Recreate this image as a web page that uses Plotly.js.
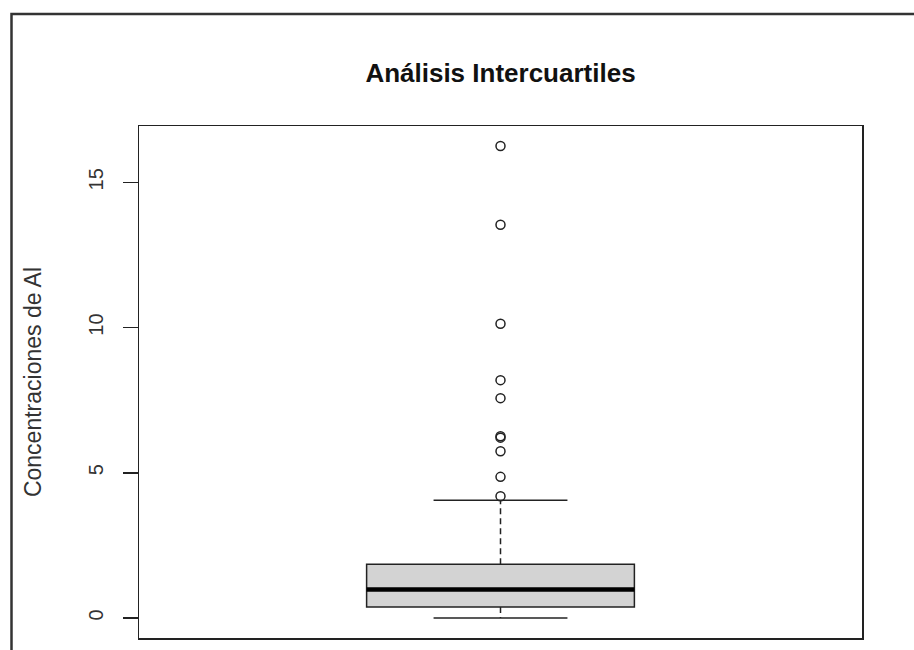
<!DOCTYPE html>
<html>
<head>
<meta charset="utf-8">
<script src="https://cdn.plot.ly/plotly-3.0.1.min.js"></script>
<style>
  html, body { margin: 0; padding: 0; background: #ffffff; }
  #chart { width: 914px; height: 650px; }
</style>
</head>
<body>
<div id="chart"></div>
<script>
// ---- data (Concentraciones de Al) ----
const boxPosition = [1];
const q1Values = [0.38];
const medianValues = [0.98];
const q3Values = [1.85];
const lowerWhisker = [0.0];
const upperWhisker = [4.05];
const outlierValues = [16.25, 13.54, 10.13, 8.19, 7.57, 6.26, 6.21, 5.74, 4.86, 4.19];
const yTickValues = [0, 5, 10, 15];
const yTickLabels = ['0', '5', '10', '15'];

const ink = '#222222';
const bx = boxPosition[0];
const halfBox = 0.2;
const halfCap = 0.1;

const traces = [
  {
    type: 'box',
    x: boxPosition,
    q1: q1Values,
    median: medianValues,
    q3: q3Values,
    lowerfence: q1Values,
    upperfence: q3Values,
    width: 2 * halfBox,
    whiskerwidth: 0,
    boxpoints: false,
    fillcolor: '#d3d3d3',
    line: { color: ink, width: 1.5 },
    hoverinfo: 'skip',
    showlegend: false
  },
  // median (thick)
  {
    type: 'scatter', mode: 'lines',
    x: [bx - halfBox, bx + halfBox],
    y: [medianValues[0], medianValues[0]],
    line: { color: '#000000', width: 4.5 },
    hoverinfo: 'skip', showlegend: false
  },
  // upper whisker (dashed)
  {
    type: 'scatter', mode: 'lines',
    x: [bx, bx],
    y: [q3Values[0], upperWhisker[0]],
    line: { color: ink, width: 1.5, dash: '6px,4px' },
    hoverinfo: 'skip', showlegend: false
  },
  // lower whisker (dashed)
  {
    type: 'scatter', mode: 'lines',
    x: [bx, bx],
    y: [q1Values[0], lowerWhisker[0]],
    line: { color: ink, width: 1.5, dash: '6px,4px' },
    hoverinfo: 'skip', showlegend: false
  },
  // caps
  {
    type: 'scatter', mode: 'lines',
    x: [bx - halfCap, bx + halfCap, null, bx - halfCap, bx + halfCap],
    y: [upperWhisker[0], upperWhisker[0], null, lowerWhisker[0], lowerWhisker[0]],
    line: { color: ink, width: 1.5 },
    connectgaps: false,
    hoverinfo: 'skip', showlegend: false
  },
  // outliers
  {
    type: 'scatter', mode: 'markers',
    x: outlierValues.map(() => bx),
    y: outlierValues,
    marker: { symbol: 'circle-open', size: 9, color: ink, line: { width: 1.5, color: ink } },
    showlegend: false
  }
];

const plotL = 139, plotR = 862, plotT = 126, plotB = 638;
const pw = plotR - plotL, ph = plotB - plotT;
const px2x = p => (p - plotL) / pw;
const px2y = p => (plotB - p) / ph;

const layout = {
  width: 914,
  height: 650,
  margin: { l: plotL, r: 914 - plotR, t: plotT, b: 650 - plotB, pad: 0 },
  paper_bgcolor: '#ffffff',
  plot_bgcolor: '#ffffff',
  font: { family: 'Liberation Sans, Arial, sans-serif', color: ink },
  title: {
    text: 'Análisis Intercuartiles',
    font: { size: 26, weight: 'bold', color: '#111111', family: 'Liberation Sans, Arial, sans-serif' },
    xref: 'paper', x: 0.5, xanchor: 'center',
    yref: 'container', y: 1 - 73 / 650, yanchor: 'middle'
  },
  xaxis: {
    range: [0.46, 1.54],
    showticklabels: false,
    ticks: '',
    showgrid: false,
    zeroline: false,
    showline: true,
    mirror: true,
    linecolor: ink,
    linewidth: 1.5,
    fixedrange: true
  },
  yaxis: {
    range: [-0.689, 16.94],
    tickmode: 'array',
    tickvals: yTickValues,
    ticktext: yTickLabels,
    tickangle: -90,
    ticks: 'outside',
    ticklen: 15,
    tickwidth: 1.5,
    tickcolor: ink,
    ticklabelstandoff: 12,
    tickfont: { size: 20, color: '#333333' },
    showgrid: false,
    zeroline: false,
    showline: true,
    mirror: true,
    linecolor: ink,
    linewidth: 1.5,
    title: { text: 'Concentraciones de Al', font: { size: 23, color: '#333333' }, standoff: 36 },
    automargin: false,
    fixedrange: true
  },
  shapes: [
    {
      type: 'path', xref: 'paper', yref: 'paper',
      path: 'M ' + px2x(11.5) + ',' + px2y(660) + ' L ' + px2x(11.5) + ',' + px2y(14) + ' L ' + px2x(920) + ',' + px2y(14),
      line: { color: '#333333', width: 2.5 }
    }
  ],
  showlegend: false
};

Plotly.newPlot('chart', traces, layout, { displayModeBar: false, staticPlot: true });
</script>
</body>
</html>
